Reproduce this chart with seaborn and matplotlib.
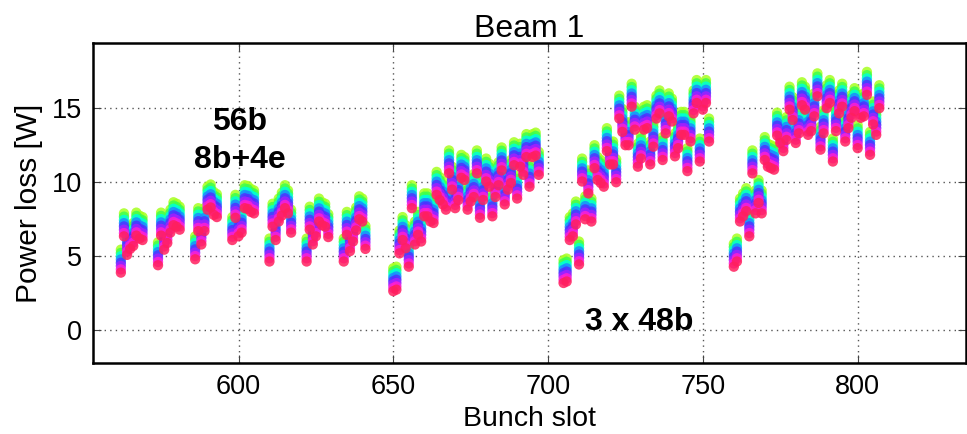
import numpy as np
import pandas as pd
import matplotlib
matplotlib.use("Agg")
import matplotlib.pyplot as plt
import seaborn as sns

# ---------------- data ----------------
# 56b in trains of 8 bunches (8b+4e), then 3 trains of 48b
train_starts_8b = [562, 574, 586, 598, 610, 622, 634]
train_starts_48b = [650, 705, 760]

# power loss of the lowest (last, red) scan for every bunch
loss_56b = [
    3.9, 6.35, 5.1, 5.5, 5.7, 6.4, 6.2, 6.1,
    4.4, 6.4, 5.45, 5.9, 6.6, 7.1, 7.0, 6.8,
    4.8, 6.7, 5.8, 6.7, 8.15, 8.3, 7.8, 7.65,
    6.1, 7.6, 6.35, 6.6, 8.25, 8.2, 8.0, 7.9,
    4.65, 7.0, 6.1, 7.35, 7.75, 8.25, 7.9, 6.6,
    4.65, 6.8, 5.8, 6.35, 7.35, 7.1, 7.0, 6.3,
    4.65, 6.45, 5.35, 6.0, 6.75, 7.5, 7.35, 5.5,
]
loss_48b_1 = [
    2.65, 2.75, 5.2, 6.1, 5.55, 4.3, 8.25, 5.8, 6.45, 6.0, 7.7, 7.7,
    7.35, 7.25, 9.15, 8.8, 8.5, 8.15, 10.6, 9.5, 8.25, 8.8, 10.3, 10.15,
    8.15, 8.7, 9.0, 10.6, 7.6, 8.8, 10.05, 9.7, 7.7, 9.0, 9.8, 10.8,
    8.5, 9.5, 9.95, 11.15, 8.9, 11.05, 10.5, 11.7, 9.7, 11.7, 11.8, 10.5,
]
loss_48b_2 = [
    3.2, 3.3, 6.1, 6.35, 7.15, 4.45, 10.05, 7.5, 9.25, 7.35, 10.95, 10.15,
    9.95, 9.7, 12.1, 11.2, 11.2, 10.0, 14.3, 13.4, 12.5, 12.5, 15.1, 13.55,
    11.05, 11.6, 13.55, 13.65, 11.2, 12.4, 14.3, 14.65, 11.5, 13.3, 14.45, 14.1,
    11.75, 12.3, 13.2, 13.2, 10.75, 12.75, 14.65, 15.35, 11.4, 14.9, 15.35, 12.75,
]
loss_48b_3 = [
    4.3, 4.65, 7.35, 7.7, 8.05, 6.35, 10.6, 7.9, 8.6, 7.9, 11.5, 11.05,
    10.95, 10.85, 13.15, 12.65, 12.1, 12.85, 14.9, 14.2, 12.65, 13.3, 15.2, 14.9,
    13.2, 13.45, 14.45, 15.8, 12.2, 13.3, 15.0, 15.35, 11.4, 13.45, 14.65, 15.1,
    12.75, 13.65, 14.35, 14.8, 12.3, 14.35, 14.45, 15.9, 11.85, 13.9, 13.2, 15.0,
]
# offset of each scan above the lowest scan (first scan = highest, green)
scan_names = ["scan 1", "scan 2", "scan 3", "scan 4", "scan 5", "scan 6", "scan 7", "scan 8"]
scan_offsets = [1.55, 1.33, 1.11, 0.89, 0.67, 0.45, 0.22, 0.0]
scan_colors = ["#a6ff1f", "#3dff4d", "#00ffd5", "#1a8cff", "#4d33ff", "#a020ff", "#ff1fd2", "#ff1f5e"]

# ---------------- build table ----------------
slots = []
for s in train_starts_8b:
    slots += list(range(s, s + 8))
for s in train_starts_48b:
    slots += list(range(s, s + 48))
base = loss_56b + loss_48b_1 + loss_48b_2 + loss_48b_3

rows = []
for name, off in zip(scan_names, scan_offsets):
    for sl, b in zip(slots, base):
        rows.append({"Bunch slot": sl, "Power loss [W]": b + off, "scan": name})
df = pd.DataFrame(rows)

# ---------------- plot ----------------
sns.set_theme(style="white")
plt.rcParams["font.family"] = ["Liberation Sans", "DejaVu Sans"]
plt.rcParams["text.color"] = "black"
plt.rcParams["axes.labelcolor"] = "black"
plt.rcParams["xtick.color"] = "black"
plt.rcParams["ytick.color"] = "black"

fig = plt.figure(figsize=(9.67, 4.34), dpi=100)
ax = fig.add_axes([93 / 967, 1 - 363 / 434, (966 - 93) / 967, (363 - 43) / 434])

sns.scatterplot(data=df, x="Bunch slot", y="Power loss [W]", hue="scan",
                hue_order=scan_names, palette=scan_colors, s=55,
                linewidth=0, alpha=0.85, legend=False, ax=ax, zorder=3)

ax.set_xlim(553, 835)
ax.set_ylim(-2.2, 19.4)
ax.set_xticks([600, 650, 700, 750, 800])
ax.set_yticks([0, 5, 10, 15])
ax.grid(True, linestyle=(0, (1, 3)), color="#555555", linewidth=1.0)
for sp in ax.spines.values():
    sp.set_color("black")
    sp.set_linewidth(1.8)
ax.tick_params(direction="in", length=6, width=0.8, top=True, right=True,
               bottom=True, left=True, labelsize=19.5, labelcolor="black",
               color="#444444", pad=8)
ax.set_xlabel("Bunch slot", fontsize=20.5, labelpad=4)
ax.set_ylabel("Power loss [W]", fontsize=21.5, labelpad=6)
ax.set_title("Beam 1", fontsize=23, pad=4)

bold = dict(fontsize=23, fontweight="bold", ha="center", va="center",
            family=["Liberation Sans", "DejaVu Sans"], color="black")
ax.text(600.3, 14.1, "56b", **bold)
ax.text(600.3, 11.5, "8b+4e", **bold)
ax.text(729.5, 0.6, "3 x 48b", **bold)

fig.savefig("out.png", dpi=100)
